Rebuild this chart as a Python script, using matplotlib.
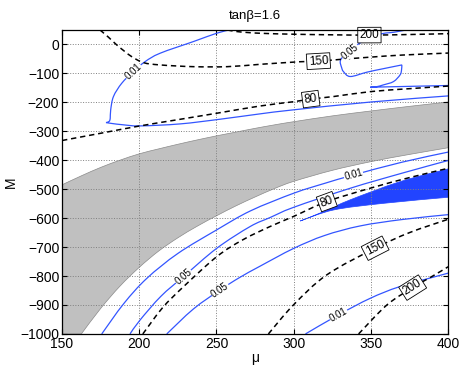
import numpy as np
import matplotlib.pyplot as plt
from matplotlib.path import Path
from matplotlib.patches import PathPatch

plt.rcParams['font.family'] = ['Liberation Sans', 'DejaVu Sans']

# excluded region (grey band): upper and lower edges
gray_top_x = [150, 162.5, 175, 187.5, 200, 212.5, 225, 237.5, 250, 262.5, 275, 287.5, 300, 325, 350, 375, 400]
gray_top_y = [-485, -454, -425, -400, -378, -361, -345, -330, -316, -303, -290, -278, -267, -247, -230, -214, -199]
gray_bot_x = [150, 162.5, 175, 187.5, 200, 212.5, 225, 237.5, 250, 262.5, 275, 287.5, 300, 325, 350, 375, 400]
gray_bot_y = [-1000, -1000, -912, -835, -770, -714, -668, -628, -592, -558, -527, -498, -473, -435, -405, -380, -357]

# black dashed contours (upper part)
d150a_x = [174.5, 180, 185, 190, 195, 202.7, 213.5, 235, 257, 278, 304, 316, 330, 350, 370, 400]
d150a_y = [50, 25, 0, -22, -42, -63, -71, -77, -77, -69, -60, -58, -52, -44, -37, -30]
d200a_x = [257, 262, 270, 280, 300, 325, 349, 375, 400]
d200a_y = [50, 45, 41, 38, 35, 33, 32, 34, 37]
d80a_x = [150, 175, 200, 225, 250, 278, 300, 311, 326, 350, 375, 400]
d80a_y = [-332, -307, -282, -260, -238, -213, -198, -189, -180, -163, -153, -144]

# black dashed contours (lower part)
d80b_x = [202.3, 215, 228.6, 250.2, 267, 284.7, 300, 321.4, 350, 375, 400]
d80b_y = [-1000, -910, -837, -733, -675, -629, -594, -543, -496, -460, -428]
d150b_x = [283.6, 299.8, 321.4, 352.7, 375, 400]
d150b_y = [-1000, -900, -796, -704, -650, -604]
d200b_x = [342, 360.3, 377, 390, 400]
d200b_y = [-1000, -900, -840, -800, -768]

# blue contours
b01a_x = [258.5, 250.2, 235, 213.5, 203.8, 196.2, 188.7, 183.3, 181.5, 181.2, 180.5, 178.5, 182, 190, 200.5, 226.4, 252.3, 278.2, 300, 350, 400]
b01a_y = [50, 38.6, 9.6, -30.6, -59.5, -94, -134, -180, -226, -255, -266, -270, -273, -278, -281.6, -274.7, -258.5, -240, -226, -199, -178]
b05a_x = [373, 365, 356, 343, 336.5, 331.5, 330.1, 331, 332.2, 336.6, 347.4, 358, 370, 369.8, 368.9, 364.6, 358, 353.8, 349.5, 375, 400]
b05a_y = [50, 42, 35, 5, -25, -45, -60, -80, -94, -111, -96, -84, -71, -88, -105, -128.5, -140, -146, -148, -145, -142]
b01b_x = [175.7, 190, 204.9, 225, 250, 272, 300, 320, 338.7, 370, 400]
b01b_y = [-1000, -895, -808, -722, -641, -575, -514, -480, -451, -407, -372]
b05b_x = [194, 200.5, 214, 228.6, 250.2, 271.8, 284.7, 299.8, 336.5, 370, 400]
b05b_y = [-1000, -952, -870, -802, -704, -629, -598, -563, -497, -445, -401]
b05c_x = [217.8, 235, 252.3, 265, 278.2, 299.8, 320, 343, 370, 400]
b05c_y = [-1000, -914, -848, -805, -766, -705, -660, -627, -605, -588]
b01c_x = [307.6, 329, 349.5, 369, 400]
b01c_y = [-1000, -934, -877, -836, -790]

# solid blue region
fill_up_x = [304.2, 319.3, 336.5, 368.9, 400]
fill_up_y = [-610, -577.5, -537, -474, -430]
fill_lo_x = [304.2, 325.7, 358, 400]
fill_lo_y = [-610, -572, -549, -528]

blue = '#3355ff'


def smooth(xs, ys, corners=()):
    # Catmull-Rom through the read points, drawn as cubic Bezier segments
    p = np.c_[xs, ys].astype(float)
    n = len(p)
    verts = [p[0]]
    codes = [Path.MOVETO]
    for i in range(n - 1):
        p0 = p[i - 1] if (i > 0 and i not in corners) else p[i]
        p3 = p[i + 2] if (i + 2 < n and i + 1 not in corners) else p[i + 1]
        c1 = p[i] + (p[i + 1] - p0) / 6
        c2 = p[i + 1] - (p3 - p[i]) / 6
        verts += [c1, c2, p[i + 1]]
        codes += [Path.CURVE4] * 3
    return verts, codes


def closed(xa, ya, xb, yb, ca=(), cb=()):
    va, ka = smooth(xa, ya, ca)
    n = len(xb) - 1
    vb, kb = smooth(xb[::-1], yb[::-1], [n - c for c in cb])
    kb[0] = Path.LINETO
    return Path(va + vb + [va[0]], ka + kb + [Path.CLOSEPOLY])


fig = plt.figure(figsize=(4.63, 3.69), dpi=100)
ax = fig.add_axes([0.134, 0.095, 0.834, 0.824])
ax.set_xlim(150, 400)
ax.set_ylim(-1000, 50)

ax.add_patch(PathPatch(closed(gray_top_x, gray_top_y, gray_bot_x, gray_bot_y, cb=[1]),
                       facecolor='#c0c0c0', edgecolor='#8a8a8a', lw=0.5, zorder=1))
ax.add_patch(PathPatch(closed(fill_up_x, fill_up_y, fill_lo_x, fill_lo_y),
                       facecolor='#2244ff', edgecolor='#2244ff', lw=0.5, zorder=2))

blue_lines = [(b01a_x, b01a_y, [11]), (b05a_x, b05a_y, [12, 18]), (b01b_x, b01b_y, []),
              (b05b_x, b05b_y, []), (b05c_x, b05c_y, []), (b01c_x, b01c_y, [])]
for xs, ys, cn in blue_lines:
    v, k = smooth(xs, ys, cn)
    ax.add_patch(PathPatch(Path(v, k), fill=False, edgecolor=blue, lw=0.9, zorder=3))

dash_lines = [(d150a_x, d150a_y), (d200a_x, d200a_y), (d80a_x, d80a_y),
              (d80b_x, d80b_y), (d150b_x, d150b_y), (d200b_x, d200b_y)]
for xs, ys in dash_lines:
    v, k = smooth(xs, ys)
    ax.add_patch(PathPatch(Path(v, k), fill=False, edgecolor='black', lw=1.1,
                           ls=(0, (3.5, 2.5)), zorder=4))


def label_on(xs, ys, x0, y0, txt, boxed):
    pts = ax.transData.transform(np.c_[xs, ys])
    p0 = ax.transData.transform((x0, y0))
    i = int(np.argmin(np.hypot(*(pts - p0).T)))
    a = pts[max(i - 1, 0)]
    b = pts[min(i + 1, len(pts) - 1)]
    ang = np.degrees(np.arctan2(b[1] - a[1], b[0] - a[0]))
    if ang > 90:
        ang -= 180
    if ang < -90:
        ang += 180
    if boxed:
        bb = dict(boxstyle='square,pad=0.15', fc='white', ec='black', lw=0.6)
        fs = 8.5
    else:
        bb = dict(boxstyle='square,pad=0.05', fc='white', ec='none')
        fs = 7
    ax.text(x0, y0, txt, rotation=ang, rotation_mode='anchor', ha='center', va='center',
            fontsize=fs, bbox=bb, zorder=6)


label_on(d200a_x, d200a_y, 349, 32, '200', True)
label_on(d150a_x, d150a_y, 316, -58, '150', True)
label_on(d80a_x, d80a_y, 311, -189, '80', True)
label_on(d80b_x, d80b_y, 321.4, -543, '80', True)
label_on(d150b_x, d150b_y, 352.7, -704, '150', True)
label_on(d200b_x, d200b_y, 377, -840, '200', True)
label_on(b01a_x, b01a_y, 196.2, -94, '0.01', False)
label_on(b05a_x, b05a_y, 336.5, -25, '0.05', False)
label_on(b01b_x, b01b_y, 338.7, -451, '0.01', False)
label_on(b05b_x, b05b_y, 228.6, -802, '0.05', False)
label_on(b05c_x, b05c_y, 252.3, -848, '0.05', False)
label_on(b01c_x, b01c_y, 329, -934, '0.01', False)

ax.set_xticks(np.arange(150, 401, 50))
ax.set_yticks(np.arange(-1000, 1, 100))
ax.grid(True, ls=':', color='#808080', lw=0.7)
ax.set_axisbelow(False)
ax.tick_params(direction='in', top=True, right=True, length=3.5, labelsize=10, pad=2)
for s in ax.spines.values():
    s.set_linewidth(0.9)
    s.set_zorder(7)

ax.set_title('tan\u03b2=1.6', fontsize=9.5, pad=8)
ax.set_xlabel('\u03bc', fontsize=10, labelpad=0)
ax.set_ylabel('M', fontsize=10, labelpad=2)

fig.savefig('out.png', dpi=100)
